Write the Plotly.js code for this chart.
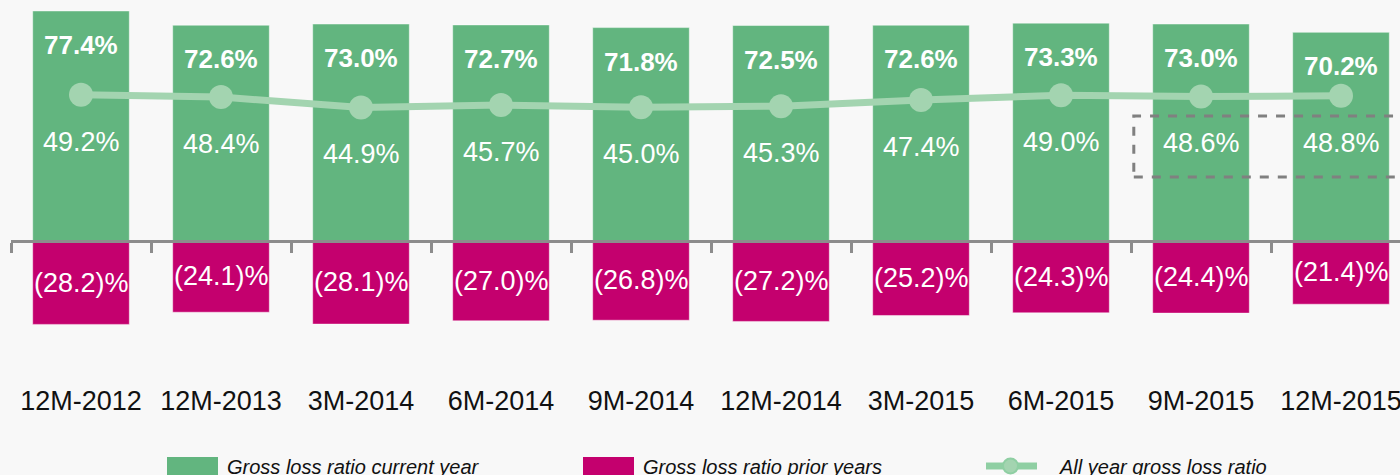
<!DOCTYPE html>
<html>
<head>
<meta charset="utf-8">
<script src="https://cdn.plot.ly/plotly-3.0.1.min.js"></script>
<style>html,body{margin:0;padding:0;background:#f8f8f8;}</style>
</head>
<body>
<div id="chart" style="width:1400px;height:475px;"></div>
<script>
const categories = ['12M-2012','12M-2013','3M-2014','6M-2014','9M-2014','12M-2014','3M-2015','6M-2015','9M-2015','12M-2015'];
const currentYear = [77.4, 72.6, 73.0, 72.7, 71.8, 72.5, 72.6, 73.3, 73.0, 70.2];
const priorYears = [-28.2, -24.1, -28.1, -27.0, -26.8, -27.2, -25.2, -24.3, -24.4, -21.4];
const allYear = [49.2, 48.4, 44.9, 45.7, 45.0, 45.3, 47.4, 49.0, 48.6, 48.8];
const seriesNames = ['Gross loss ratio current year', 'Gross loss ratio prior years', 'All year gross loss ratio'];

const GREEN = '#62b57f', MAGENTA = '#c4006e', LINEG = '#a3d4b0';
const FONT = "'Liberation Sans Narrow', 'Arial Narrow', 'Liberation Sans', Arial, sans-serif";
const W = 1400, H = 475, ML = 11, MT = 0, PH = 360, PW = W - ML;
const px2x = p => (p - ML) / PW;
const py2y = p => (MT + PH - p) / PH;

const traces = [
  {type:'bar', x:categories, y:currentYear, name:seriesNames[0], marker:{color:GREEN, line:{color:'rgba(255,255,255,0.45)', width:1}}, hoverinfo:'skip'},
  {type:'bar', x:categories, y:priorYears, name:seriesNames[1], marker:{color:MAGENTA, line:{color:'rgba(255,255,255,0.45)', width:1}}, hoverinfo:'skip'},
  {type:'scatter', mode:'lines+markers', x:categories, y:allYear, name:seriesNames[2], line:{color:LINEG, width:7}, marker:{color:LINEG, size:24}, hoverinfo:'skip'}
];

const fmt = v => v.toFixed(1) + '%';
const annotations = [];
categories.forEach((c, i) => {
  annotations.push({x:c, y:currentYear[i], xref:'x', yref:'y', yshift:-34, yanchor:'middle', showarrow:false,
    text:'<b>' + fmt(currentYear[i]) + '</b>', font:{family:FONT, size:26, color:'#ffffff'}});
  annotations.push({x:c, y:allYear[i], xref:'x', yref:'y', yshift:-47, yanchor:'middle', showarrow:false,
    text:fmt(allYear[i]), font:{family:FONT, size:27, color:'#ffffff'}});
  annotations.push({x:c, y:priorYears[i] / 2, xref:'x', yref:'y', yanchor:'middle', showarrow:false,
    text:'(' + Math.abs(priorYears[i]).toFixed(1) + ')%', font:{family:FONT, size:27, color:'#ffffff'}});
});

// custom legend
const shapes = [
  {type:'rect', xref:'paper', yref:'paper', x0:px2x(167), x1:px2x(218), y0:py2y(457), y1:py2y(480), fillcolor:GREEN, line:{width:0}},
  {type:'rect', xref:'paper', yref:'paper', x0:px2x(583), x1:px2x(634), y0:py2y(457), y1:py2y(480), fillcolor:MAGENTA, line:{width:0}},
  {type:'line', xref:'paper', yref:'paper', x0:px2x(986), x1:px2x(1037), y0:py2y(466), y1:py2y(466), line:{color:'#8fcfa3', width:7}},
  {type:'circle', xref:'paper', yref:'paper', x0:px2x(1003), x1:px2x(1018), y0:py2y(458.5), y1:py2y(473.5), fillcolor:LINEG, line:{color:'#8fcfa3', width:2}},
  // dashed highlight box
  {type:'rect', xref:'x', yref:'y', x0:7.52, x1:9.9, y0:21.5, y1:42.0, line:{color:'#808080', width:3, dash:'dash'}, fillcolor:'rgba(0,0,0,0)', layer:'above'}
];
const legendText = [[225, seriesNames[0]], [641, seriesNames[1]], [1057, seriesNames[2]]];
legendText.forEach(([p, t]) => annotations.push({xref:'paper', yref:'paper', x:px2x(p), y:py2y(467), xanchor:'left', yanchor:'middle', showarrow:false,
  text:'<i>' + t + '</i>', font:{family:FONT, size:20, color:'#111111'}}));

const yMax = 81.1, yMin = -40.2;
const layout = {
  width:W, height:H,
  margin:{l:ML, r:0, t:MT, b:H - MT - PH, pad:0},
  paper_bgcolor:'#f8f8f8', plot_bgcolor:'#f8f8f8',
  barmode:'relative', bargap:0.31,
  showlegend:false,
  xaxis:{type:'category', range:[-0.5, -0.5 + PW / 140], anchor:'free', position:(-yMin) / (yMax - yMin),
    showline:true, linecolor:'#8c8c8c', linewidth:3, ticks:'outside', tickson:'boundaries', ticklen:10, tickwidth:3, tickcolor:'#8c8c8c',
    showgrid:false, zeroline:false, tickangle:0, tickfont:{family:FONT, size:27, color:'#111111'}, ticklabelstandoff:135, fixedrange:true},
  yaxis:{range:[yMin, yMax], showgrid:false, zeroline:false, showticklabels:false, showline:false, ticks:'', fixedrange:true},
  annotations:annotations,
  shapes:shapes
};
Plotly.newPlot('chart', traces, layout, {displayModeBar:false, staticPlot:true});
</script>
</body>
</html>
